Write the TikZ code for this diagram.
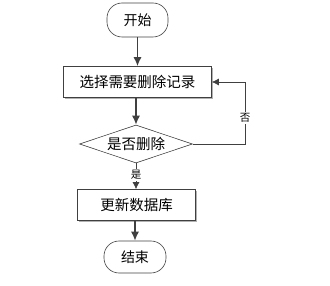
\documentclass[tikz,border=0pt]{standalone}
\usepackage{fontspec}
\setmainfont{Noto Sans CJK SC}
\usetikzlibrary{shapes.geometric,arrows.meta,shadows}
\begin{document}
\begin{tikzpicture}[x=1pt,y=-1pt,
  term/.style={draw=black!75,rounded corners=15pt,minimum width=61pt,minimum height=34pt,inner sep=0pt,font=\fontsize{14}{15}\selectfont,line width=0.6pt},
  procbox/.style={draw=black!75,fill=white,minimum height=31pt,inner sep=0pt,font=\fontsize{14.5}{15}\selectfont,line width=0.6pt,drop shadow={shadow xshift=1.5pt,shadow yshift=-1.5pt,fill=black!30,opacity=1}},
  decide/.style={draw=black!75,diamond,aspect=3,minimum width=113pt,minimum height=38pt,inner sep=0pt,font=\fontsize{14.5}{15}\selectfont,line width=0.6pt},
  flow/.style={draw=black!75,line width=1.4pt,-{Latex[length=9pt,width=8pt]}},
  thinflow/.style={draw=black!75,line width=0.8pt,-{Latex[length=7pt,width=7pt]}},
  lab/.style={fill=white,inner sep=1pt,font=\fontsize{10.5}{11}\selectfont}]
\useasboundingbox (0,0) rectangle (330,286);
\node[term] (start) at (137.5,20) {开始};
\node[procbox,minimum width=148pt] (sel) at (137.5,82) {选择需要删除记录};
\node[decide] (dec) at (136,144) {是否删除};
\node[procbox,minimum width=118pt] (upd) at (136.5,205) {更新数据库};
\node[term,minimum width=62pt,minimum height=32pt] (end) at (135,257) {结束};
\coordinate (c1) at (245,144);
\coordinate (c2) at (245,82);
\draw[flow] (start) -- (sel);
\draw[flow] (sel.south -| dec.north) -- (dec.north);
\draw[thinflow] (dec.south) -- (upd.north -| dec.south);
\node[lab] (yes) at (136,175) {是};
\draw[thinflow] (dec.east) -- (c1) -- (c2) -- (sel.east);
\node[lab] (no) at (245,118) {否};
\draw[flow] (upd.south -| end.north) -- (end.north);
\end{tikzpicture}
\end{document}
